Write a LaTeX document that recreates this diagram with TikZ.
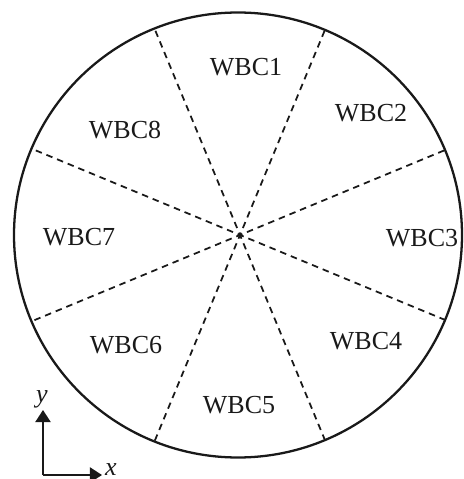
\documentclass[tikz,border=0pt]{standalone}
\usepackage{fontspec}
\setmainfont{Liberation Serif}
\definecolor{ink}{RGB}{25,25,25}
\usepackage{tikz}
\usetikzlibrary{arrows.meta}

\begin{document}
\begin{tikzpicture}[
    sector/.style={ink,line width=1pt,dash pattern=on 0.13cm off 0.1cm},
    wbc/.style={font=\fontsize{14.8}{17}\selectfont,text=ink,inner sep=0pt},
    axis/.style={ink,line width=1.1pt,-{Triangle[width=0.3cm,length=0.24cm]}}
  ]
        \useasboundingbox (-4.8,-4.88) rectangle (4.48,4.70);
        % sector boundaries
        \draw[sector] (202.5:4.45) -- (22.5:4.45);
        \draw[sector] (247.5:4.45) -- (67.5:4.45);
        \draw[sector] (292.5:4.45) -- (112.5:4.45);
        \draw[sector] (337.5:4.45) -- (157.5:4.45);
        \fill[ink] (0,0) circle (0.04);
        \draw[ink,line width=1.3pt] (-0.04,0) ellipse [x radius=4.48, y radius=4.45];
        % labels
        \node[wbc] (w1) at (0.12,3.36) {WBC1};
        \node[wbc] (w2) at (2.62,2.44) {WBC2};
        \node[wbc] (w3) at (3.64,-0.06) {WBC3};
        \node[wbc] (w4) at (2.52,-2.12) {WBC4};
        \node[wbc] (w5) at (-0.02,-3.40) {WBC5};
        \node[wbc] (w6) at (-2.28,-2.20) {WBC6};
        \node[wbc] (w7) at (-3.22,-0.04) {WBC7};
        \node[wbc] (w8) at (-2.30,2.10) {WBC8};
        % axes
        \coordinate (org) at (-3.94,-4.80);
        \coordinate (ytip) at (-3.94,-3.50);
        \coordinate (xtip) at (-2.76,-4.80);
        \draw[axis] (org) -- (ytip);
        \draw[axis] (org) -- (xtip);
        \node[wbc] (ylab) at (-3.96,-3.28) {\textit{y}};
        \node[wbc] (xlab) at (-2.58,-4.70) {\textit{x}};
      \end{tikzpicture}
\end{document}
